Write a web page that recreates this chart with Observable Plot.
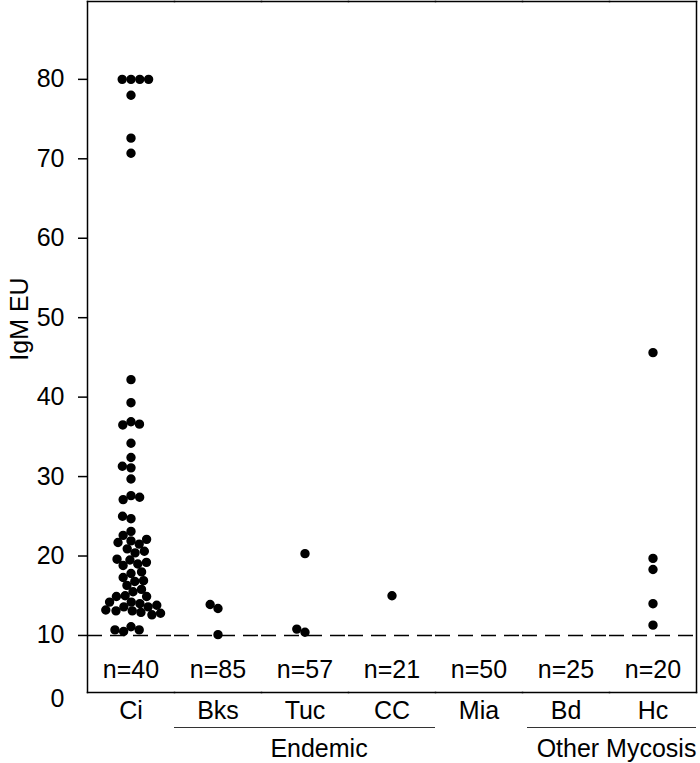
<!DOCTYPE html>
<html>
<head>
<meta charset="utf-8">
<script src="https://cdn.jsdelivr.net/npm/d3@7"></script>
<script src="https://cdn.jsdelivr.net/npm/@observablehq/plot@0.6"></script>
<style>
  body { margin: 0; background: #fff; }
  #chart svg { display: block; }
</style>
</head>
<body>
<div id="chart"></div>
<script>
// ---- data ----
const categories = ["Ci", "Bks", "Tuc", "CC", "Mia", "Bd", "Hc"];
const nLabels = ["n=40", "n=85", "n=57", "n=21", "n=50", "n=25", "n=20"];
const ciValues = [
  80, 80, 80, 80, 78.0, 72.6, 70.7,
  42.2, 39.3, 36.9, 36.5, 36.6, 34.2, 32.4, 31.1, 31.3, 29.7,
  27.6, 27.1, 27.4, 24.7, 25.0, 23.1, 22.6,
  21.9, 21.5, 20.9, 21.7, 22.1, 20.4, 20.6,
  19.5, 19.0, 18.8, 19.2, 19.6,
  17.8, 18.0, 17.3, 16.8, 16.9, 16.3,
  15.5, 15.8, 15.0, 14.9, 14.9,
  14.2, 14.0, 14.2, 13.6, 13.6, 13.8,
  13.1, 13.1, 13.2, 12.9, 12.8, 12.6,
  11.1, 10.5, 10.7, 10.7
];
const bksValues = [13.4, 13.9, 10.1];
const tucValues = [20.3, 10.4, 10.8];
const ccValues = [15.0];
const miaValues = [];
const bdValues = [];
const hcValues = [45.6, 19.7, 18.3, 14.0, 11.3];
const yTicks = [10, 20, 30, 40, 50, 60, 70, 80];
const cutoff = 10;
const groupLabels = ["Endemic", "Other Mycosis"];
const groupMembers = [["Bks", "Tuc", "CC"], ["Bd", "Hc"]];
const yLabel = "IgM EU";

// ---- tables built from the arrays ----
const valueLists = [ciValues, bksValues, tucValues, ccValues, miaValues, bdValues, hcValues];
const points = categories.flatMap((c, i) => valueLists[i].map(v => ({cat: c, value: v})));
const nData = categories.map((c, i) => ({cat: c, n: nLabels[i]}));
const catData = categories.map(c => ({cat: c}));
const lineData = groupMembers.flatMap((m, g) => m.map((c, j) => ({cat: c, group: groupLabels[g], first: g === 1 && j === 0})));

const yDomain = [2.82, 89.8];
const fs = 25;

const plot = Plot.plot({
  width: 700,
  height: 763,
  marginLeft: 86,
  marginRight: 3,
  marginTop: 1,
  marginBottom: 71,
  style: {fontFamily: "'Liberation Sans', Arial, Helvetica, sans-serif", fontSize: fs + "px", color: "#000", background: "#fff"},
  fx: {domain: categories, padding: 0, axis: null, label: null},
  y: {domain: yDomain, axis: null},
  marks: [
    Plot.ruleY([cutoff], {stroke: "#000", strokeWidth: 1.5, strokeDasharray: "15,8"}),
    Plot.dot(points, Plot.dodgeX("middle", {fx: "cat", y: "value", r: 3.9, padding: 0, fill: "#000", stroke: "#000", strokeWidth: 1.6})),
    Plot.frame({anchor: "top", stroke: "#000", strokeWidth: 1.5}),
    Plot.frame({anchor: "bottom", stroke: "#000", strokeWidth: 1.5}),
    Plot.frame({anchor: "left", facetAnchor: "left", stroke: "#000", strokeWidth: 1.5}),
    Plot.frame({anchor: "right", facetAnchor: "right", stroke: "#000", strokeWidth: 1.5}),
    Plot.axisY({ticks: yTicks, tickSize: 9, tickPadding: 14, fontSize: fs, strokeWidth: 1.5, label: null}),
    Plot.text([{cat: "Ci", t: "0"}], {fx: "cat", text: "t", frameAnchor: "bottom-left", textAnchor: "end", lineAnchor: "middle", dx: -23, dy: 6, fontSize: fs}),
    Plot.text([{cat: "Ci", t: yLabel}], {fx: "cat", text: "t", frameAnchor: "left", textAnchor: "middle", lineAnchor: "middle", rotate: -90, dx: -68, dy: -28, fontSize: fs}),
    Plot.text(nData, {fx: "cat", text: "n", frameAnchor: "bottom", lineAnchor: "middle", dy: -23, fontSize: fs}),
    Plot.text(catData, {fx: "cat", text: "cat", frameAnchor: "bottom", lineAnchor: "middle", dy: 18, fontSize: fs}),
    Plot.ruleY(lineData.filter(d => !d.first), {fx: "cat", y: () => yDomain[0], dy: 35, stroke: "#333", strokeWidth: 1.2}),
    Plot.ruleY(lineData.filter(d => d.first), {fx: "cat", y: () => yDomain[0], dy: 35, insetLeft: 5, stroke: "#333", strokeWidth: 1.2}),
    Plot.text([{cat: "Tuc", t: groupLabels[0]}], {fx: "cat", text: "t", frameAnchor: "bottom", lineAnchor: "middle", dx: 14, dy: 56, fontSize: fs}),
    Plot.text([{cat: "Bd", t: groupLabels[1]}], {fx: "cat", text: "t", frameAnchor: "bottom-right", textAnchor: "middle", lineAnchor: "middle", dx: 7, dy: 56, fontSize: fs})
  ]
});
document.getElementById("chart").appendChild(plot);
</script>
</body>
</html>
